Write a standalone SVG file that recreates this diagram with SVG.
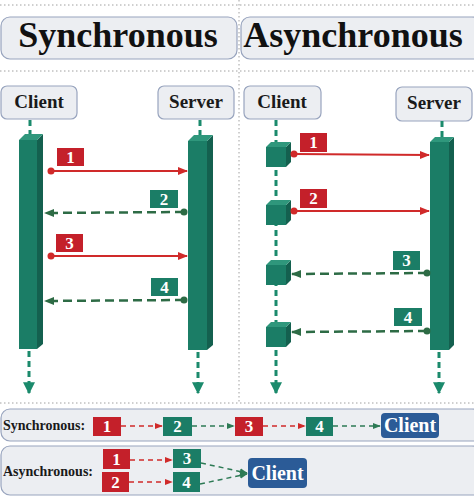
<svg xmlns="http://www.w3.org/2000/svg" width="474" height="501" viewBox="0 0 474 501">
<style>
.dot{stroke:#a0a0a0;stroke-width:1;stroke-dasharray:1.5,2.5;fill:none}
.pbox{fill:#eceef2;stroke:#98a4be;stroke-width:1.2}
.title{font-family:"Liberation Serif",serif;font-weight:bold;font-size:36px;fill:#111}
.actor{font-family:"Liberation Serif",serif;font-weight:bold;font-size:19px;fill:#1a1a1a}
.rowlbl{font-family:"Liberation Serif",serif;font-weight:bold;font-size:14px;fill:#1a1a1a}
.num{font-family:"Liberation Serif",serif;font-weight:bold;font-size:17px;fill:#fff;text-anchor:middle}
.cl{font-family:"Liberation Serif",serif;font-weight:bold;font-size:20px;fill:#fff;text-anchor:middle}
.red{fill:#c4202a}
.grn{fill:#1b7d66}
.blu{fill:#2b5b97}
.front{fill:#1b7d66}
.side{fill:#14604f}
.top{fill:#2f977c}
.life{stroke:#1b8a6c;stroke-width:3;stroke-dasharray:6,4;fill:none}
.msgr{stroke:#d02a2a;stroke-width:2;fill:none}
.msgg{stroke:#2d6b45;stroke-width:2.5;stroke-dasharray:9,5;fill:none}
.flr{stroke:#d02a2a;stroke-width:1.5;stroke-dasharray:5,4;fill:none}
.flg{stroke:#2d7a55;stroke-width:1.5;stroke-dasharray:5,4;fill:none}
</style>
<defs>
<marker id="ar" viewBox="0 0 10 10" refX="9" refY="5" markerWidth="10" markerHeight="10" markerUnits="userSpaceOnUse" orient="auto"><path d="M0,1 L10,5 L0,9 z" fill="#d02a2a"/></marker>
<marker id="ag" viewBox="0 0 10 10" refX="9" refY="5" markerWidth="10" markerHeight="10" markerUnits="userSpaceOnUse" orient="auto"><path d="M0,1 L10,5 L0,9 z" fill="#2d6b45"/></marker>
<marker id="arS" viewBox="0 0 10 10" refX="9" refY="5" markerWidth="8" markerHeight="8" markerUnits="userSpaceOnUse" orient="auto"><path d="M0,1 L10,5 L0,9 z" fill="#d02a2a"/></marker>
<marker id="agS" viewBox="0 0 10 10" refX="9" refY="5" markerWidth="8" markerHeight="8" markerUnits="userSpaceOnUse" orient="auto"><path d="M0,1 L10,5 L0,9 z" fill="#2d7a55"/></marker>
<marker id="al" viewBox="0 0 10 10" refX="9" refY="5" markerWidth="12" markerHeight="12" markerUnits="userSpaceOnUse" orient="auto"><path d="M0,0 L10,5 L0,10 z" fill="#1b8a6c"/></marker>
</defs>
<rect width="474" height="501" fill="#fff"/>

<g id="frame">
<line class="dot" x1="0" y1="5" x2="474" y2="5"/>
<line class="dot" x1="0" y1="71" x2="474" y2="71"/>
<line class="dot" x1="0" y1="403" x2="474" y2="403"/>
<line class="dot" x1="239" y1="0" x2="239" y2="403"/>
<rect class="pbox" x="1" y="409" width="480" height="32" rx="9"/>
<rect class="pbox" x="1" y="446" width="480" height="49" rx="9"/>
</g>

<g id="title-sync"><rect class="pbox" x="1" y="17" width="236" height="42" rx="9"/><text class="title" x="118" y="47" text-anchor="middle">Synchronous</text></g>
<g id="title-async"><rect class="pbox" x="241" y="17" width="240" height="42" rx="9"/><text class="title" x="353" y="47" text-anchor="middle">Asynchronous</text></g>

<g id="sync-client"><rect class="pbox" x="1" y="86" width="76" height="33" rx="6"/><text class="actor" x="39" y="108" text-anchor="middle">Client</text></g>
<g id="sync-server"><rect class="pbox" x="158" y="86" width="76" height="33" rx="6"/><text class="actor" x="196" y="108" text-anchor="middle">Server</text></g>
<g id="async-client"><rect class="pbox" x="244" y="86" width="77" height="33" rx="6"/><text class="actor" x="282" y="108" text-anchor="middle">Client</text></g>
<g id="async-server"><rect class="pbox" x="396" y="87" width="76" height="34" rx="6"/><text class="actor" x="434" y="109" text-anchor="middle">Server</text></g>

<g id="lifelines">
<line class="life" x1="30" y1="120" x2="30" y2="136"/>
<line class="life" x1="29" y1="351" x2="29" y2="393" marker-end="url(#al)"/>
<line class="life" x1="200" y1="120" x2="200" y2="136"/>
<line class="life" x1="198" y1="352" x2="198" y2="393" marker-end="url(#al)"/>
<line class="life" x1="276" y1="120" x2="276" y2="393" marker-end="url(#al)"/>
<line class="life" x1="442" y1="121" x2="442" y2="138"/>
<line class="life" x1="439" y1="352" x2="439" y2="393" marker-end="url(#al)"/>
</g>

<g id="sync-client-bar">
<rect class="front" x="19" y="140" width="18" height="209"/>
<polygon class="side" points="37,140 43,134 43,344 37,349"/>
<polygon class="top" points="19,140 25,134 43,134 37,140"/>
</g>
<g id="sync-server-bar">
<rect class="front" x="188" y="141" width="19" height="209"/>
<polygon class="side" points="207,141 213,135 213,345 207,350"/>
<polygon class="top" points="188,141 194,135 213,135 207,141"/>
</g>
<g id="async-server-bar">
<rect class="front" x="430" y="142" width="19" height="208"/>
<polygon class="side" points="449,142 454,137 454,345 449,350"/>
<polygon class="top" points="430,142 435,137 454,137 449,142"/>
</g>
<g id="async-cubes">
<rect class="front" x="266" y="147" width="20" height="20"/><polygon class="side" points="286,147 291,142 291,162 286,167"/><polygon class="top" points="266,147 271,142 291,142 286,147"/>
<rect class="front" x="266" y="205" width="20" height="20"/><polygon class="side" points="286,205 291,200 291,220 286,225"/><polygon class="top" points="266,205 271,200 291,200 286,205"/>
<rect class="front" x="266" y="265" width="20" height="20"/><polygon class="side" points="286,265 291,260 291,280 286,285"/><polygon class="top" points="266,265 271,260 291,260 286,265"/>
<rect class="front" x="266" y="327" width="20" height="20"/><polygon class="side" points="286,327 291,322 291,342 286,347"/><polygon class="top" points="266,327 271,322 291,322 286,327"/>
</g>

<g id="connectors">
<circle cx="51" cy="171" r="3.5" fill="#d02a2a"/><line class="msgr" x1="51" y1="171" x2="187" y2="171" marker-end="url(#ar)"/>
<circle cx="184" cy="212" r="3.5" fill="#2d6b45"/><line class="msgg" x1="184" y1="212" x2="45" y2="213" marker-end="url(#ag)"/>
<circle cx="51" cy="256" r="3.5" fill="#d02a2a"/><line class="msgr" x1="51" y1="256" x2="187" y2="256" marker-end="url(#ar)"/>
<circle cx="184" cy="300" r="3.5" fill="#2d6b45"/><line class="msgg" x1="184" y1="300" x2="45" y2="301" marker-end="url(#ag)"/>

<circle cx="294" cy="154" r="3.5" fill="#d02a2a"/><line class="msgr" x1="294" y1="154" x2="429" y2="155" marker-end="url(#ar)"/>
<circle cx="294" cy="211" r="3.5" fill="#d02a2a"/><line class="msgr" x1="294" y1="211" x2="429" y2="211" marker-end="url(#ar)"/>
<circle cx="427" cy="273" r="3.5" fill="#2d6b45"/><line class="msgg" x1="427" y1="273" x2="292" y2="274" marker-end="url(#ag)"/>
<circle cx="427" cy="331" r="3.5" fill="#2d6b45"/><line class="msgg" x1="427" y1="331" x2="292" y2="332" marker-end="url(#ag)"/>

<line class="flr" x1="121" y1="426" x2="162" y2="426" marker-end="url(#arS)"/>
<line class="flg" x1="192" y1="426" x2="234" y2="426" marker-end="url(#agS)"/>
<line class="flr" x1="263" y1="426" x2="305" y2="426" marker-end="url(#arS)"/>
<line class="flg" x1="333" y1="426" x2="380" y2="426" marker-end="url(#agS)"/>

<line class="flr" x1="130" y1="460" x2="172" y2="460" marker-end="url(#arS)"/>
<line class="flr" x1="129" y1="482" x2="172" y2="482" marker-end="url(#arS)"/>
<line class="flg" x1="201" y1="463" x2="247" y2="473" marker-end="url(#agS)"/>
<line class="flg" x1="200" y1="484" x2="247" y2="474" marker-end="url(#agS)"/>
</g>

<g id="sync-labels">
<rect class="red" x="57" y="148" width="27" height="18"/><text class="num" x="70.5" y="163">1</text>
<rect class="grn" x="150" y="190" width="28" height="18"/><text class="num" x="164" y="205">2</text>
<rect class="red" x="56" y="234" width="27" height="18"/><text class="num" x="69.5" y="249">3</text>
<rect class="grn" x="151" y="278" width="27" height="18"/><text class="num" x="164.5" y="293">4</text>
</g>
<g id="async-labels">
<rect class="red" x="300" y="133" width="27" height="19"/><text class="num" x="313.5" y="148">1</text>
<rect class="red" x="300" y="189" width="27" height="19"/><text class="num" x="313.5" y="204">2</text>
<rect class="grn" x="393" y="251" width="27" height="19"/><text class="num" x="406.5" y="266">3</text>
<rect class="grn" x="394" y="308" width="28" height="18"/><text class="num" x="408" y="323">4</text>
</g>

<g id="sync-row">
<text class="rowlbl" x="3" y="430">Synchronous:</text>
<rect class="red" x="93" y="417" width="28" height="19"/><text class="num" x="107" y="432">1</text>
<rect class="grn" x="163" y="417" width="29" height="19"/><text class="num" x="177.5" y="432">2</text>
<rect class="red" x="235" y="417" width="28" height="19"/><text class="num" x="249" y="432">3</text>
<rect class="grn" x="306" y="417" width="27" height="19"/><text class="num" x="319.5" y="432">4</text>
<rect class="blu" x="381" y="413" width="58" height="25" rx="4"/><text class="cl" x="410" y="432">Client</text>
</g>
<g id="async-row">
<text class="rowlbl" x="3" y="476">Asynchronous:</text>
<rect class="red" x="103" y="449" width="27" height="20"/><text class="num" x="116.5" y="465">1</text>
<rect class="red" x="102" y="472" width="27" height="20"/><text class="num" x="115.5" y="488">2</text>
<rect class="grn" x="173" y="449" width="28" height="19"/><text class="num" x="187" y="464">3</text>
<rect class="grn" x="173" y="472" width="27" height="20"/><text class="num" x="186.5" y="488">4</text>
<rect class="blu" x="248" y="458" width="59" height="30" rx="4"/><text class="cl" x="277.5" y="480">Client</text>
</g>
</svg>
